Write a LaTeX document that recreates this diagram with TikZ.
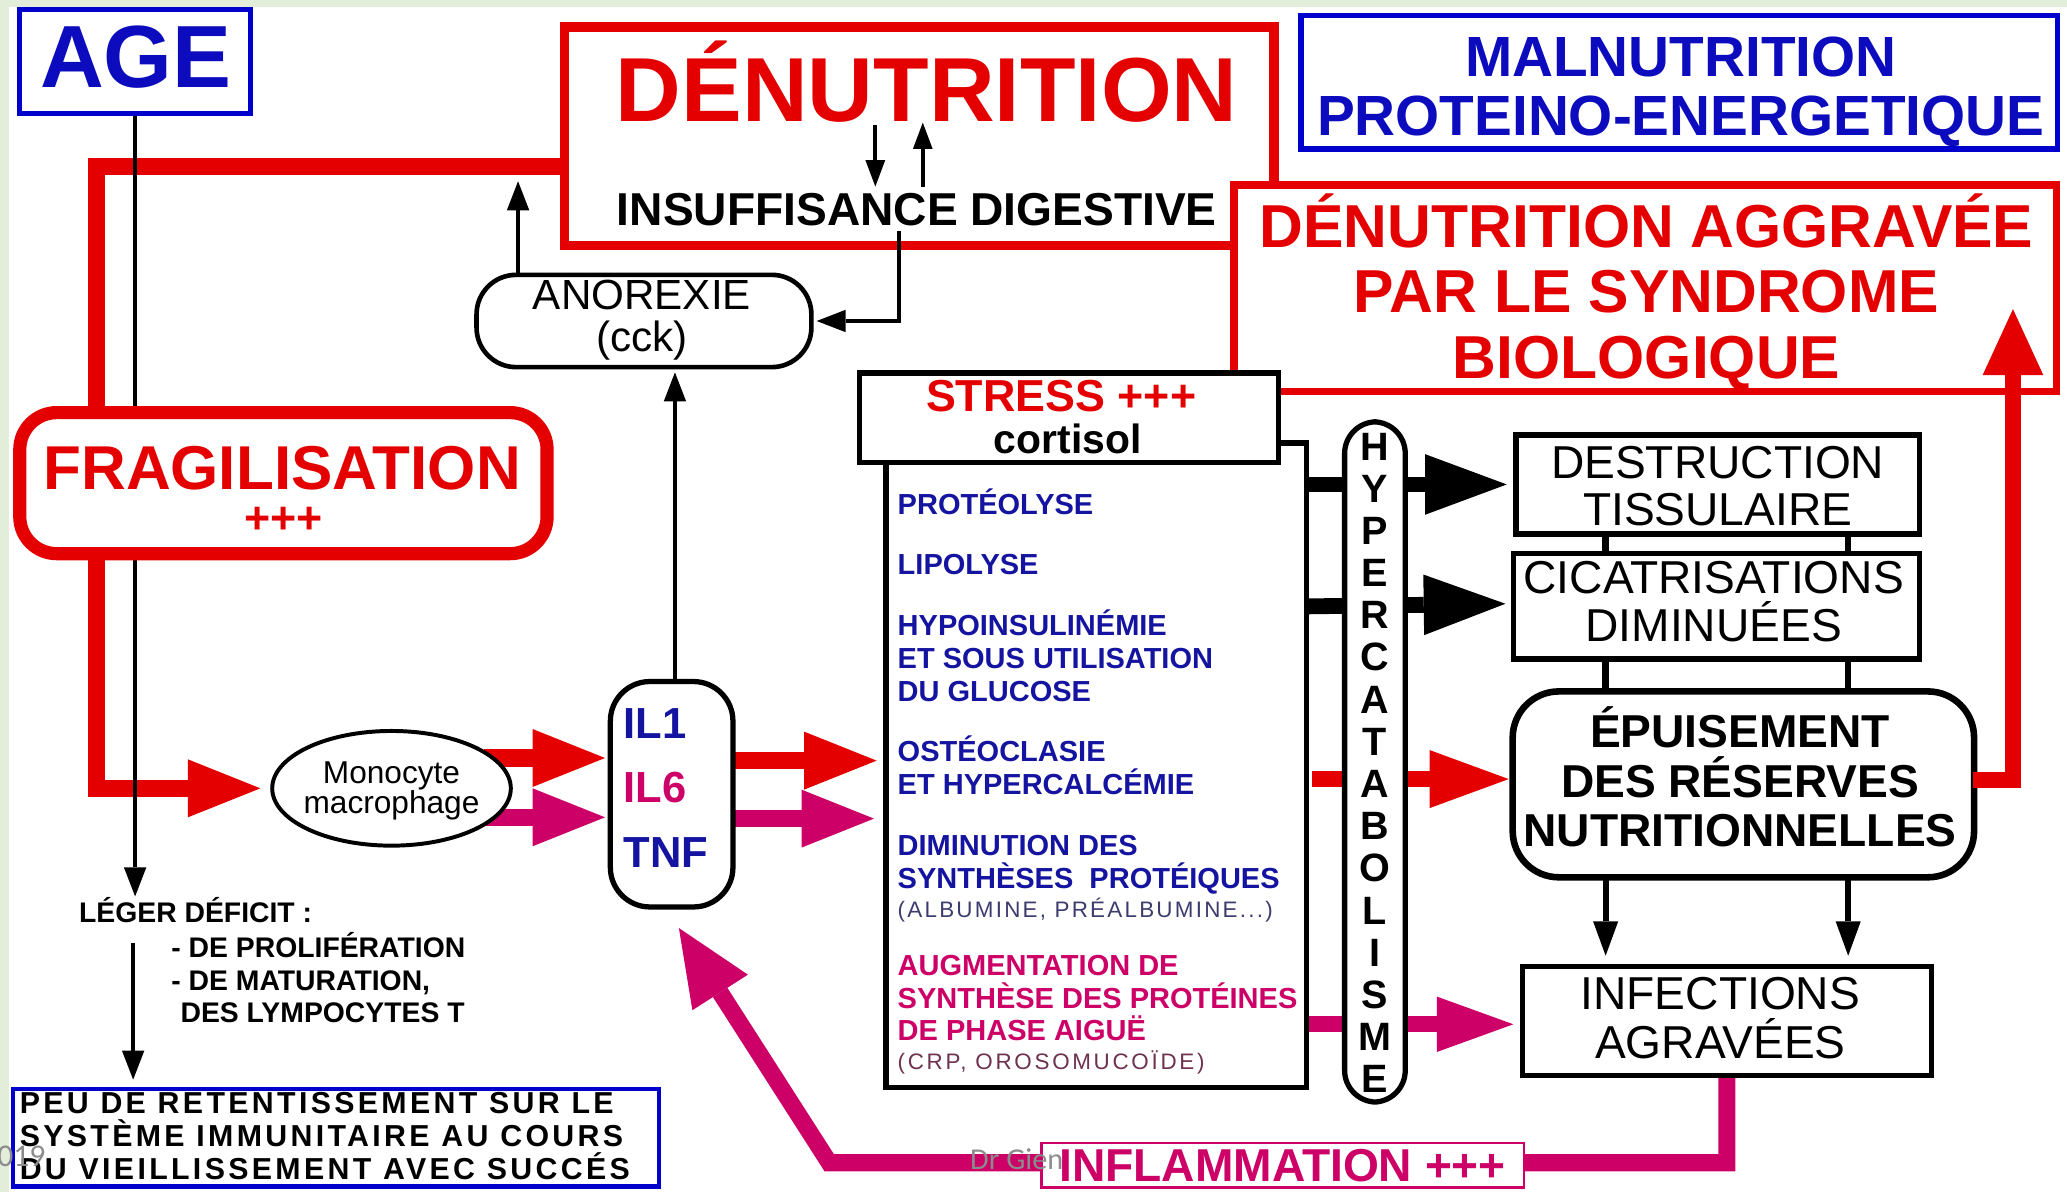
\documentclass[tikz,border=0pt]{standalone}
\usepackage{fontspec}
\setmainfont{Liberation Sans}
\newfontfamily\wmfont{Carlito}
\usetikzlibrary{arrows.meta,calc,shapes.geometric}
\pgfdeclarelayer{bgl}
\pgfdeclarelayer{back}
\pgfdeclarelayer{mid}
\pgfdeclarelayer{front}
\pgfsetlayers{bgl,back,mid,main,front}
\definecolor{redc}{RGB}{228,0,0}
\definecolor{magc}{RGB}{204,0,102}
\definecolor{bluebox}{RGB}{0,0,204}
\definecolor{bluet}{RGB}{12,12,190}
\definecolor{navy}{RGB}{20,20,160}
\definecolor{bggreen}{RGB}{226,237,218}
\definecolor{wm}{RGB}{140,140,140}
\definecolor{albc}{RGB}{60,60,110}
\definecolor{crpc}{RGB}{110,50,80}
\newcommand\fsz[2]{\fontsize{#1}{#2}\selectfont}
\begin{document}
\begin{tikzpicture}[x=1pt,y=-1pt,
  txt/.style={inner sep=0pt,outer sep=0pt,anchor=base},
  boxn/.style={draw,rectangle,inner sep=0pt,outer sep=0pt,fill=white},
  blkarr/.style={draw=black,line width=3.5pt,-{Triangle[length=22pt,width=17pt,line width=0pt]}},
  fatarr/.style={line width=13pt,line join=miter,-{Triangle[length=55pt,width=44pt,line width=0pt]}},
  ctext/.style={txt,anchor=base west,font=\bfseries\fsz{22}{22}},
]
\useasboundingbox (0,0) rectangle (1568,904);
\begin{pgfonlayer}{bgl}
\fill[bggreen] (0,0) rectangle (1568,904);
\fill[white] (7,5.5) rectangle (1568,904);
\end{pgfonlayer}

% ---------- boxes and texts ----------
\node[boxn,draw=bluebox,line width=3.5pt,minimum width=175,minimum height=79] (age) at (102.5,46.5) {};
\node[txt,text=bluet,font=\bfseries\fsz{67}{67}] (aget) at (103,66) {AGE};

\node[boxn,draw=redc,line width=7pt,minimum width=538,minimum height=166] (den) at (697.5,103.5) {};
\node[txt,text=redc,font=\bfseries\fsz{69}{69}] (dentitle) at (703,92) {DÉNUTRITION};
\node[txt,font=\bfseries\fsz{35}{35}] (insuff) at (695.5,171) {INSUFFISANCE DIGESTIVE};

\node[boxn,draw=bluebox,line width=4pt,minimum width=574,minimum height=101] (malnut) at (1274,62.5) {};
\node[txt,text=bluet,font=\bfseries\fsz{43}{43}] (mal1) at (1275,58) {MALNUTRITION};
\node[txt,text=bluet,font=\bfseries\fsz{43}{43}] (mal2) at (1275,103) {PROTEINO-ENERGETIQUE};

\node[boxn,draw=redc,line width=6pt,minimum width=624,minimum height=157] (agg) at (1248,218.5) {};
\node[txt,text=redc,font=\bfseries\fsz{46}{46}] (agg1) at (1249,188) {DÉNUTRITION AGGRAVÉE};
\node[txt,text=redc,font=\bfseries\fsz{46}{46}] (agg2) at (1249,237) {PAR LE SYNDROME};
\node[txt,text=redc,font=\bfseries\fsz{46}{46}] (agg3) at (1249,287) {BIOLOGIQUE};

\node[boxn,draw=redc,line width=10pt,rounded corners=28pt,minimum width=400,minimum height=107] (frag) at (215,366.5) {};
\node[txt,text=redc,font=\bfseries\fsz{47}{47}] (frag1) at (214,371) {FRAGILISATION};
\node[txt,text=redc,font=\bfseries\fsz{34}{34}] (frag2) at (215,405) {+++};

\node[boxn,line width=3.5pt,rounded corners=30pt,minimum width=254,minimum height=70] (anor) at (488.5,243.5) {};
\node[txt,font=\fsz{32}{32}] (anor1) at (487,235) {ANOREXIE};
\node[txt,font=\fsz{32}{32}] (anor2) at (487,267) {(cck)};

\node[draw,ellipse,fill=white,line width=3pt,inner sep=0pt,outer sep=0pt,minimum width=181,minimum height=87] (mono) at (297,598) {};
\node[txt,font=\fsz{24}{24}] (mono1) at (297,594) {Monocyte};
\node[txt,font=\fsz{24}{24}] (mono2) at (297,617) {macrophage};

\node[boxn,line width=4pt,rounded corners=30pt,minimum width=93,minimum height=171] (il) at (509.5,602.5) {};
\node[txt,anchor=base west,text=navy,font=\bfseries\fsz{33}{33}] (il1) at (473,560) {IL1};
\node[txt,anchor=base west,text=magc,font=\bfseries\fsz{33}{33}] (il6) at (473,609) {IL6};
\node[txt,anchor=base west,text=navy,font=\bfseries\fsz{33}{33}] (tnf) at (473,658) {TNF};

\node[boxn,line width=4pt,minimum width=318,minimum height=68] (stress) at (811,317) {};
\node[txt,text=redc,font=\bfseries\fsz{34}{34}] (st1) at (805,312) {STRESS +++};
\node[txt,font=\bfseries\fsz{31}{31}] (st2) at (810,344) {cortisol};

\node[inner sep=0pt,outer sep=0pt,minimum width=319,minimum height=472] (content) at (831.5,589) {};
\draw[line width=4pt] ($(stress.east)+(0,19)$) -| (content.south east) -- (content.south west) -- (content.north west);

\node[ctext,text=navy] (c1) at (681,390) {PROTÉOLYSE};
\node[ctext,text=navy] (c2) at (681,436) {LIPOLYSE};
\node[ctext,text=navy] (c3) at (681,482) {HYPOINSULINÉMIE};
\node[ctext,text=navy] (c4) at (681,507) {ET SOUS UTILISATION};
\node[ctext,text=navy] (c5) at (681,532) {DU GLUCOSE};
\node[ctext,text=navy] (c6) at (681,578) {OSTÉOCLASIE};
\node[ctext,text=navy] (c7) at (681,603) {ET HYPERCALCÉMIE};
\node[ctext,text=navy] (c8) at (681,649) {DIMINUTION DES};
\node[ctext,text=navy] (c9) at (681,674) {SYNTHÈSES\ \ PROTÉIQUES};
\node[txt,anchor=base west,text=albc,font=\fsz{17}{17}\addfontfeature{LetterSpace=10}] (c10) at (681,696) {(ALBUMINE, PRÉALBUMINE...)};
\node[ctext,text=magc] (c11) at (681,740) {AUGMENTATION DE};
\node[ctext,text=magc] (c12) at (681,765) {SYNTHÈSE DES PROTÉINES};
\node[ctext,text=magc] (c13) at (681,789) {DE PHASE AIGUË};
\node[txt,anchor=base west,text=crpc,font=\fsz{17}{17}\addfontfeature{LetterSpace=12}] (c14) at (681,811) {(CRP, OROSOMUCOÏDE)};

\node[boxn,line width=4pt,rounded corners=24pt,minimum width=46,minimum height=516] (hyper) at (1043,578) {};
\foreach \l [count=\i] in {H,Y,P,E,R,C,A,T,A,B,O,L,I,S,M,E}
  \node[txt,font=\bfseries\fsz{30}{30}] (hy\i) at (1043,{349+32*(\i-1)}) {\l};

\node[boxn,line width=4pt,minimum width=306,minimum height=75] (destr) at (1303,367.5) {};
\node[txt,font=\fsz{35}{35}] (d1) at (1303,363) {DESTRUCTION};
\node[txt,font=\fsz{35}{35}] (d2) at (1303,399) {TISSULAIRE};

\node[boxn,line width=4pt,minimum width=308,minimum height=80] (cica) at (1302,460) {};
\node[txt,font=\fsz{35}{35}] (ci1) at (1300,450) {CICATRISATIONS};
\node[txt,font=\fsz{35}{35}] (ci2) at (1300,487) {DIMINUÉES};

\node[boxn,line width=5pt,rounded corners=35pt,minimum width=350,minimum height=141] (epuis) at (1322.5,595) {};
\node[txt,font=\bfseries\fsz{35}{35}] (e1) at (1320,567) {ÉPUISEMENT};
\node[txt,font=\bfseries\fsz{35}{35}] (e2) at (1320,605) {DES RÉSERVES};
\node[txt,font=\bfseries\fsz{35}{35}] (e3) at (1320,642) {NUTRITIONNELLES};

\node[boxn,line width=4pt,minimum width=310,minimum height=83] (infec) at (1310,774.5) {};
\node[txt,font=\fsz{35}{35}] (i1) at (1305,766) {INFECTIONS};
\node[txt,font=\fsz{35}{35}] (i2) at (1305,803) {AGRAVÉES};

\node[boxn,draw=magc,line width=2pt,minimum width=366,minimum height=34] (inflam) at (973,884) {};
\node[txt,text=magc,font=\bfseries\fsz{35}{35}] (inf1) at (973,896) {INFLAMMATION +++};

\node[boxn,draw=bluebox,line width=3.5pt,minimum width=490,minimum height=74] (peu) at (255,863) {};
\node[txt,anchor=base west,font=\bfseries\fsz{23}{23}\addfontfeature{LetterSpace=11}] (p1) at (15,845) {PEU DE RETENTISSEMENT SUR LE};
\node[txt,anchor=base west,font=\bfseries\fsz{23}{23}\addfontfeature{LetterSpace=11}] (p2) at (15,870) {SYSTÈME IMMUNITAIRE AU COURS};
\node[txt,anchor=base west,font=\bfseries\fsz{23}{23}\addfontfeature{LetterSpace=11}] (p3) at (15,895) {DU VIEILLISSEMENT AVEC SUCCÉS};

\node[txt,anchor=base west,font=\bfseries\fsz{21.5}{21.5}] (lg1) at (60,700) {LÉGER DÉFICIT :};
\node[txt,anchor=base west,font=\bfseries\fsz{21.5}{21.5}] (lg2) at (130,726) {- DE PROLIFÉRATION};
\node[txt,anchor=base west,font=\bfseries\fsz{21.5}{21.5}] (lg3) at (130,751) {- DE MATURATION,};
\node[txt,anchor=base west,font=\bfseries\fsz{21.5}{21.5}] (lg4) at (137,776) {DES LYMPOCYTES T};

% ---------- connectors behind boxes ----------
\begin{pgfonlayer}{back}
\draw[fatarr,draw=redc] ($(den.west)+(0,22.5)$) -| ($(mono.west)+(-133,0)$) -- ($(mono.west)+(-9,0)$);
\draw[fatarr,draw=redc] ($(mono.center)+(70,-23)$) -- ($(il.west)+(-4,-27.5)$);
\draw[fatarr,draw=magc] ($(mono.center)+(70,22)$) -- ($(il.west)+(-4,17.5)$);
\draw[fatarr,draw=redc] ($(il.east)+(-5,-25.5)$) -- ($(content.west)+(-7,-12)$);
\draw[fatarr,draw=magc] ($(il.east)+(-5,18.5)$) -- ($(content.west)+(-9,32)$);
\draw[line width=12pt,draw=black,-{Triangle[length=62pt,width=46pt,line width=0pt]}] (content.east |- destr.west) -- ($(destr.west)+(-7,0)$);
\draw[line width=12pt,draw=black,-{Triangle[length=62pt,width=46pt,line width=0pt]}] (content.east |- cica.west) -- ($(cica.west)+(-6,-2)$);
\draw[line width=12pt,draw=redc,-{Triangle[length=60pt,width=44pt,line width=0pt]}] ($(content.east |- epuis.west)+(4,-4)$) -- ($(epuis.west)+(-3,-4)$);
\draw[line width=12pt,draw=magc,-{Triangle[length=58pt,width=42pt,line width=0pt]}] ($(content.east |- infec.west)+(0,2.5)$) -- ($(infec.west)+(-7,2.5)$);
\draw[line width=13pt,draw=magc,line join=miter,-{Triangle[length=58pt,width=50pt,line width=0pt]}] ($(infec.south)+(0,-2)$) |- ($(inflam.west)+(-161,-2)$) -- ($(il.south)+(5.5,16)$);
\end{pgfonlayer}

\begin{pgfonlayer}{mid}
\draw[blkarr] (age.south) -- ($(age.south)+(0,594)$);
\draw[blkarr] ($(lg1.base west)+(41,15)$) -- ($(peu.north west)+(91,-7)$);
\end{pgfonlayer}

% ---------- connectors on top ----------
\begin{pgfonlayer}{front}
\draw[blkarr,line width=3pt,-{Triangle[length=20pt,width=15pt,line width=0pt]}] ($(dentitle.base)+(-39,3)$) -- ($(insuff.north)+(-31.5,-5)$);
\draw[blkarr,line width=3pt,-{Triangle[length=20pt,width=15pt,line width=0pt]}] ($(insuff.north)+(4.5,-5)$) -- ($(dentitle.base)+(-3,1)$);
\draw[blkarr] ($(anor.north)+(-95.5,0)$) -- ($(anor.north)+(-95.5,-71)$);
\draw[blkarr] ($(il.north)+(2.5,0)$) -- ($(anor.south)+(23.5,4)$);
\draw[blkarr,line join=miter] ($(insuff.south)+(-13.5,4)$) |- ($(anor.east)+(4,0)$);
\draw[line width=5pt] ($(destr.south)+(-85,0)$) -- ($(cica.north)+(-84,0)$);
\draw[line width=5pt] ($(destr.south)+(99,0)$) -- ($(cica.north)+(100,0)$);
\draw[line width=5pt] ($(cica.south)+(-84,0)$) -- ($(epuis.north)+(-104.5,0)$);
\draw[line width=5pt] ($(cica.south)+(100,0)$) -- ($(epuis.north)+(79.5,0)$);
\draw[blkarr,line width=4.5pt,-{Triangle[length=26pt,width=19pt,line width=0pt]}] ($(epuis.south)+(-104.5,0)$) -- ($(infec.north)+(-92,-8)$);
\draw[blkarr,line width=4.5pt,-{Triangle[length=26pt,width=19pt,line width=0pt]}] ($(epuis.south)+(79.5,0)$) -- ($(infec.north)+(92,-8)$);
\draw[line width=12pt,draw=redc,line join=miter,-{Triangle[length=50pt,width=46pt,line width=0pt]}] ($(epuis.east)+(-1,-3)$) -| ($(agg.south)+(279,-62.5)$);
\node[txt,anchor=base west,text=wm,font=\wmfont\fsz{23}{23}] (wm1) at (736,887) {Dr Gien};
\node[txt,anchor=base west,text=wm,font=\wmfont\fsz{24}{24}] (wm2) at (-2,885) {019};
\end{pgfonlayer}
\end{tikzpicture}
\end{document}
